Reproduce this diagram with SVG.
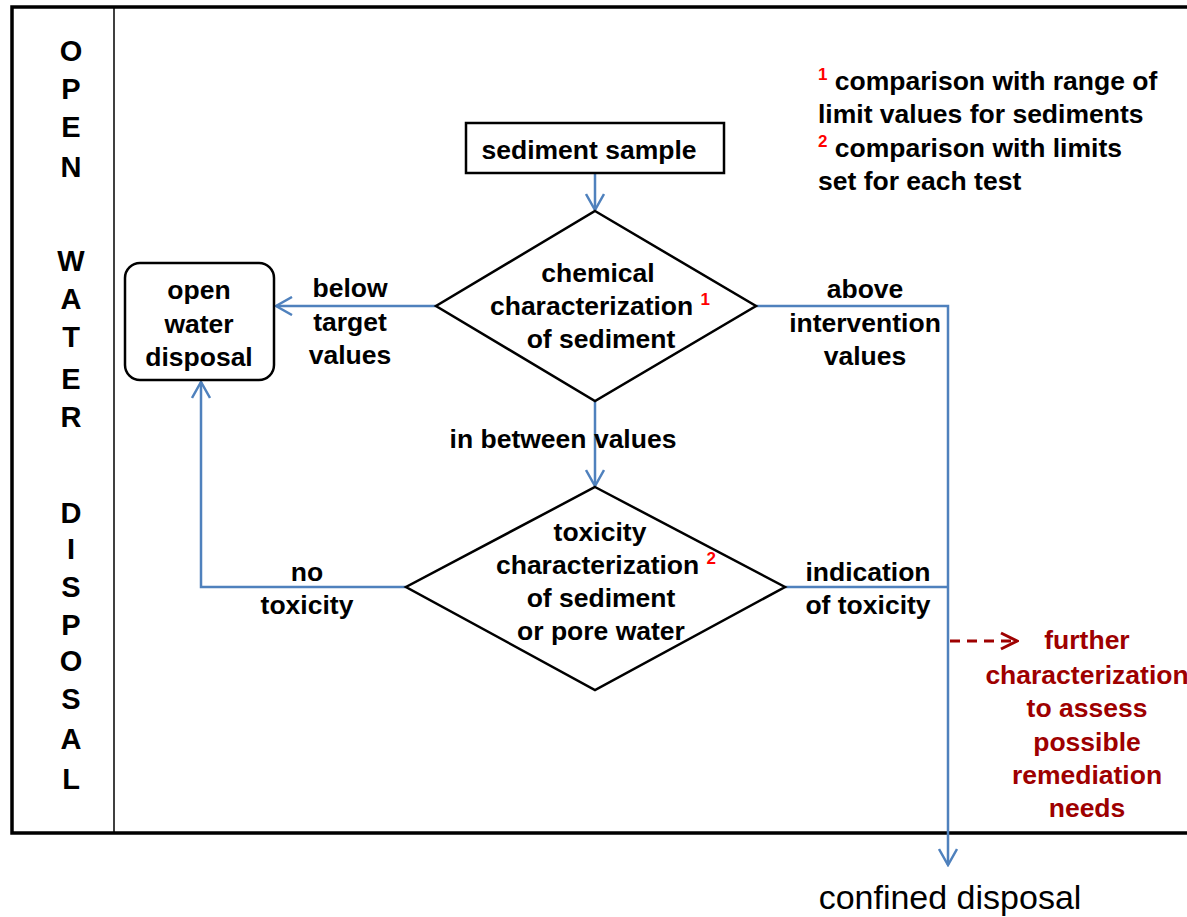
<svg xmlns="http://www.w3.org/2000/svg" width="1187" height="917" viewBox="0 0 1187 917">
<defs>
<style>
.t{font-family:"Liberation Sans",Arial,sans-serif;font-weight:bold;font-size:26.5px;fill:#000;text-anchor:middle}
.v{font-family:"Liberation Sans",Arial,sans-serif;font-weight:bold;font-size:29px;fill:#000;text-anchor:middle}
.r{fill:#9E0000}
.sup{font-size:17px;fill:#FF0000}
.c{fill:none;stroke:#4F81BD;stroke-width:2.5}
.n{fill:#fff;stroke:#000;stroke-width:2.5}
</style>
<marker id="ah" viewBox="0 0 20 20" refX="18" refY="10" markerWidth="20" markerHeight="20" markerUnits="userSpaceOnUse" orient="auto">
<path d="M2,1 L18,10 L2,19" fill="none" stroke="#4F81BD" stroke-width="2.5"/>
</marker>
<marker id="ahr" viewBox="0 0 20 20" refX="18" refY="10" markerWidth="20" markerHeight="20" markerUnits="userSpaceOnUse" orient="auto">
<path d="M2,2 L18,10 L2,18" fill="none" stroke="#9E0000" stroke-width="3"/>
</marker>
</defs>
<rect width="1187" height="917" fill="#fff"/>
<g id="frame">
<path d="M1195,7 H12 V833 H1195" fill="none" stroke="#000" stroke-width="3.5"/>
<line x1="114" y1="7" x2="114" y2="833" stroke="#000" stroke-width="1.5"/>
<g class="v">
<text x="71" y="61">O</text><text x="71" y="99">P</text><text x="71" y="137">E</text><text x="71" y="177">N</text>
<text x="71" y="271">W</text><text x="71" y="309">A</text><text x="71" y="347">T</text><text x="71" y="389">E</text><text x="71" y="427">R</text>
<text x="71" y="523">D</text><text x="71" y="559">I</text><text x="71" y="597">S</text><text x="71" y="635">P</text><text x="71" y="671">O</text><text x="71" y="709">S</text><text x="71" y="749">A</text><text x="71" y="789">L</text>
</g>
</g>
<g id="connectors">
<line class="c" x1="595" y1="173" x2="595" y2="210" marker-end="url(#ah)"/>
<line class="c" x1="436" y1="306" x2="276" y2="306" marker-end="url(#ah)"/>
<polyline class="c" points="756,306 948,306 948,865" marker-end="url(#ah)"/>
<line class="c" x1="595" y1="401" x2="595" y2="486" marker-end="url(#ah)"/>
<polyline class="c" points="406,587 201,587 201,382" marker-end="url(#ah)"/>
<line class="c" x1="785" y1="587" x2="948" y2="587"/>
<line x1="950" y1="641" x2="1017" y2="641" stroke="#9E0000" stroke-width="3" stroke-dasharray="10,7" marker-end="url(#ahr)"/>
</g>
<g id="labels" class="t">
<text x="350" y="297">below</text><text x="350" y="331">target</text><text x="350" y="364">values</text>
<text x="865" y="298">above</text><text x="865" y="332">intervention</text><text x="865" y="365">values</text>
<text x="563" y="448">in between values</text>
<text x="307" y="581">no</text><text x="307" y="614">toxicity</text>
<text x="868" y="581">indication</text><text x="868" y="614">of toxicity</text>
</g>
<g id="sample">
<rect class="n" x="466" y="123" width="258" height="50" stroke-width="1.5"/>
<text class="t" x="589" y="159">sediment sample</text>
</g>
<g id="chemical">
<polygon class="n" points="595,211 756,306 595,401 436,306"/>
<text class="t" x="598" y="282">chemical</text>
<text class="t" x="600" y="315">characterization <tspan class="sup" dy="-10">1</tspan></text>
<text class="t" x="601" y="348">of sediment</text>
</g>
<g id="openwater">
<rect class="n" x="125" y="263" width="149" height="117" rx="15" stroke-width="3"/>
<text class="t" x="199" y="299">open</text><text class="t" x="199" y="333">water</text><text class="t" x="199" y="366">disposal</text>
</g>
<g id="toxicity">
<polygon class="n" points="595,487 785,587 595,690 406,587"/>
<text class="t" x="600" y="541">toxicity</text>
<text class="t" x="606" y="574">characterization <tspan class="sup" dy="-10">2</tspan></text>
<text class="t" x="601" y="607">of sediment</text>
<text class="t" x="601" y="640">or pore water</text>
</g>
<g id="further" class="t">
<text class="r" x="1087" y="649">further</text>
<text class="r" x="1087" y="684">characterization</text>
<text class="r" x="1087" y="717">to assess</text>
<text class="r" x="1087" y="751">possible</text>
<text class="r" x="1087" y="784">remediation</text>
<text class="r" x="1087" y="817">needs</text>
</g>
<g id="confined">
<text x="950" y="909" font-family="Liberation Sans,Arial,sans-serif" font-size="34" text-anchor="middle">confined disposal</text>
</g>
<g id="notes" class="t" style="text-anchor:start">
<text x="818" y="90"><tspan class="sup" dy="-10">1</tspan><tspan dy="10"> comparison with range of</tspan></text>
<text x="818" y="123">limit values for sediments</text>
<text x="818" y="157"><tspan class="sup" dy="-10">2</tspan><tspan dy="10"> comparison with limits</tspan></text>
<text x="818" y="190">set for each test</text>
</g>
</svg>
